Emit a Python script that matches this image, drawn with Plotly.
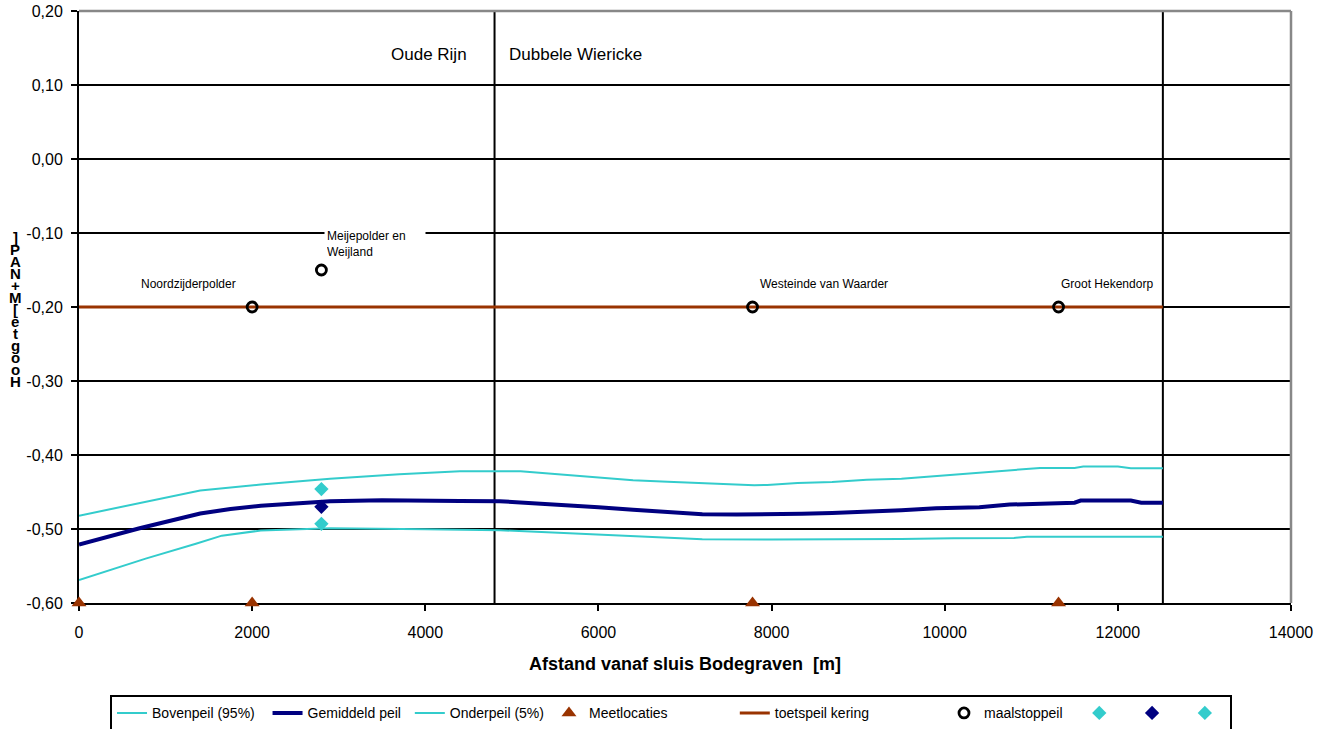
import plotly.graph_objects as go

# ---------------- data ----------------
x_boven = [0, 600, 1400, 2100, 2900, 3700, 4400, 5100, 5600, 6000, 6400, 6800, 7200, 7600, 7800, 7950,
           8300, 8700, 9100, 9500, 9900, 10300, 10650, 11100, 11500, 11600, 12000, 12150, 12520]
boven = [-0.482, -0.467, -0.448, -0.440, -0.432, -0.426, -0.422, -0.422, -0.4265, -0.431, -0.434, -0.436,
         -0.438, -0.440, -0.441, -0.4405, -0.438, -0.4365, -0.4335, -0.432, -0.4285, -0.4245, -0.422,
         -0.4175, -0.4175, -0.4155, -0.4155, -0.418, -0.418]

x_gem = [0, 700, 1400, 1750, 2100, 2500, 2900, 3500, 4000, 4400, 4860, 5600, 6000, 6400, 6800, 7200, 7600,
         8150, 8350, 8700, 9100, 9500, 9900, 10400, 10750, 11050, 11500, 11570, 12150, 12270, 12520]
gem = [-0.521, -0.499, -0.479, -0.473, -0.4685, -0.465, -0.4625, -0.461, -0.461, -0.462, -0.4625, -0.467,
       -0.4705, -0.474, -0.4775, -0.480, -0.4805, -0.4805, -0.4795, -0.4785, -0.477, -0.4745, -0.472,
       -0.4705, -0.467, -0.466, -0.4645, -0.4615, -0.4615, -0.4645, -0.4645]

x_onder = [0, 770, 1350, 1650, 2100, 2900, 4000, 4860, 5600, 6400, 7200, 8000, 8700, 9500, 10100, 10800,
           10950, 12520]
onder = [-0.569, -0.540, -0.520, -0.509, -0.502, -0.499, -0.5005, -0.5017, -0.5053, -0.5098, -0.514,
         -0.5143, -0.5143, -0.5134, -0.5125, -0.512, -0.5105, -0.5105]

meet_x = [0, 2000, 7780, 11315]
meet_y = [-0.60, -0.60, -0.60, -0.60]

toets_x = [0, 12520]
toets_y = [-0.20, -0.20]

maal_x = [2000, 2800, 7780, 11315]
maal_y = [-0.20, -0.15, -0.20, -0.20]
maal_names = ["Noordzijderpolder", "Meijepolder en<br>Weijland", "Westeinde van Waarder", "Groot Hekendorp"]

ruit_x = [2800, 2800, 2800]
ruit_y = [-0.446, -0.470, -0.493]

grens_x = [4800, 12520]
grens_names = ["Oude Rijn", "Dubbele Wiericke"]

ytick_vals = [0.20, 0.10, 0.00, -0.10, -0.20, -0.30, -0.40, -0.50, -0.60]
ytick_text = ["0,20", "0,10", "0,00", "-0,10", "-0,20", "-0,30", "-0,40", "-0,50", "-0,60"]
xtick_vals = [0, 2000, 4000, 6000, 8000, 10000, 12000, 14000]
xtick_text = ["0", "2000", "4000", "6000", "8000", "10000", "12000", "14000"]

y_title = "Hoogte[M+NAP]"
x_title = "Afstand vanaf sluis Bodegraven  [m]"

legend_names = ["Bovenpeil (95%)", "Gemiddeld peil", "Onderpeil (5%)", "Meetlocaties",
                "toetspeil kering", "maalstoppeil", "", "", ""]

# ---------------- style ----------------
FONT = "Liberation Sans, Arial, sans-serif"
CYAN = "#33CCCC"
NAVY = "#000080"
BROWN = "#993300"
NB = "\u00a0"
legend_pad = [2, 1, 0, 16, 18, 3, 2, 2, 0]
names = [n + NB * p for n, p in zip(legend_names, legend_pad)]

fig = go.Figure()
fig.add_trace(go.Scatter(x=x_boven, y=boven, mode="lines", name=names[0],
                         line=dict(color=CYAN, width=2)))
fig.add_trace(go.Scatter(x=x_gem, y=gem, mode="lines", name=names[1],
                         line=dict(color=NAVY, width=4)))
fig.add_trace(go.Scatter(x=x_onder, y=onder, mode="lines", name=names[2],
                         line=dict(color=CYAN, width=2)))
fig.add_trace(go.Scatter(x=meet_x, y=meet_y, mode="markers", name=names[3], cliponaxis=False,
                         marker=dict(symbol="triangle-up", color=BROWN, size=13)))
fig.add_trace(go.Scatter(x=toets_x, y=toets_y, mode="lines", name=names[4],
                         line=dict(color=BROWN, width=3)))
fig.add_trace(go.Scatter(x=maal_x, y=maal_y, mode="markers", name=names[5],
                         marker=dict(symbol="circle-open", color="black", size=10, line=dict(width=2.8))))
ruit_colors = [CYAN, NAVY, CYAN]
for i, (xv, yv, c) in enumerate(zip(ruit_x, ruit_y, ruit_colors)):
    fig.add_trace(go.Scatter(x=[xv], y=[yv], mode="markers", name=names[6 + i],
                             marker=dict(symbol="diamond", color=c, size=11)))

shapes = []
for gx in grens_x:
    shapes.append(dict(type="line", xref="x", yref="y", x0=gx, x1=gx, y0=-0.6, y1=0.2,
                       line=dict(color="black", width=2), layer="below"))
# grey plot border top/right
shapes.append(dict(type="line", xref="paper", yref="paper", x0=0, x1=1, y0=1, y1=1,
                   line=dict(color="#888888", width=2.5)))
shapes.append(dict(type="line", xref="paper", yref="paper", x0=1, x1=1, y0=0, y1=1,
                   line=dict(color="#888888", width=2.5)))

annotations = []
annotations.append(dict(x=grens_x[0], y=0.141, xref="x", yref="y", text=grens_names[0], showarrow=False,
                        xanchor="right", yanchor="middle", xshift=-26, font=dict(size=17, color="black")))
annotations.append(dict(x=grens_x[0], y=0.141, xref="x", yref="y", text=grens_names[1], showarrow=False,
                        xanchor="left", yanchor="middle", xshift=12, font=dict(size=17, color="black")))

lbl_shift = [(-113, 23), (3, 26), (5, 23), (0, 23)]
for xv, yv, t, (dx, dy) in zip(maal_x, maal_y, maal_names, lbl_shift):
    a = dict(x=xv, y=yv, xref="x", yref="y", text=t, showarrow=False, xanchor="left", yanchor="middle",
             xshift=dx, yshift=dy, align="left", font=dict(size=12, color="black"))
    if "<br>" in t:
        a.update(bgcolor="white", width=96, borderpad=2)
    annotations.append(a)

# stacked y-axis title characters (as in the reference, one character per line)
chars = list(reversed(y_title))
for i, ch in enumerate(chars):
    py = 237 + i * 12.06
    annotations.append(dict(x=0, y=(603.3 - py) / 592.6, xref="paper", yref="paper", text="<b>" + ch + "</b>",
                            showarrow=False, xanchor="center", yanchor="middle", xshift=-64,
                            font=dict(size=15, color="black", family=FONT)))

fig.update_layout(
    width=1333, height=729,
    margin=dict(l=79, r=42, t=11, b=126, pad=0, autoexpand=False),
    paper_bgcolor="white", plot_bgcolor="white",
    font=dict(family=FONT, color="black", size=13),
    shapes=shapes, annotations=annotations,
    showlegend=True,
    legend=dict(orientation="h", x=0.0256, xanchor="left", xref="paper", y=-0.156, yanchor="top",
                bordercolor="black", borderwidth=2, font=dict(size=14), bgcolor="white",
                itemwidth=30, tracegroupgap=0),
)
fig.update_xaxes(range=[0, 14000], tickvals=xtick_vals, ticktext=xtick_text, showgrid=False, zeroline=False,
                 showline=True, linecolor="black", linewidth=2, ticks="outside", ticklen=6, tickwidth=2,
                 tickcolor="black", tickfont=dict(size=16), ticklabelstandoff=8, automargin=False,
                 layer="below traces",
                 title=dict(text="<b>" + x_title + "</b>", font=dict(size=18), standoff=17))
fig.update_yaxes(range=[-0.6, 0.2], tickvals=ytick_vals, ticktext=ytick_text, showgrid=True,
                 gridcolor="black", gridwidth=2, zeroline=False, showline=True, linecolor="black",
                 linewidth=2, ticks="outside", ticklen=6, tickwidth=2, tickcolor="black",
                 tickfont=dict(size=16), ticklabelstandoff=5, automargin=False, layer="below traces")

fig.write_html("out.html", config={"displayModeBar": False},
               post_script="document.body.style.margin='0';document.body.style.overflow='hidden';")
